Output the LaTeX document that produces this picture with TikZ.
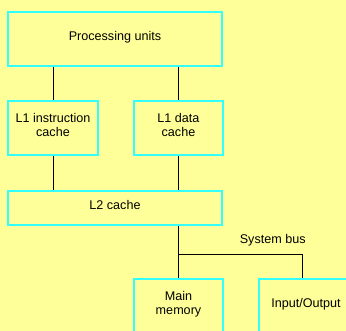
\documentclass[tikz,border=0pt]{standalone}
\usepackage{fontspec}
\setmainfont{Liberation Sans}
\usepackage{xcolor}
\usetikzlibrary{positioning}
\definecolor{bgyellow}{HTML}{FFFF99}
\definecolor{boxcyan}{HTML}{33FFFF}

\begin{document}
\begin{tikzpicture}[
  x=1pt, y=1pt,
  unit/.style={rectangle, draw=boxcyan, line width=1.3pt, align=center,
               minimum height=54pt, inner sep=0pt, text depth=6.5pt,
               font=\fontsize{12.6}{14.5}\selectfont},
  wire/.style={draw=black, line width=0.9pt},
]
  % background and frame
  \fill[bgyellow] (0,0) rectangle (346,-331);
  \clip (0,0) rectangle (346,-331);

  % Processor side
  \node[unit, minimum width=214pt] (proc) at (115,-39) {Processing units};
  \node[unit, minimum width=90pt] (icache) at (53,-128) {L1 instruction\\cache};
  \node[unit, minimum width=89pt] (dcache) at (178.5,-128) {L1 data\\cache};
  \node[unit, minimum width=214pt, minimum height=34pt] (ltwo) at (115,-208) {L2 cache};

  % Bus side
  \node[unit, minimum width=89pt] (mem) at (178.5,-306) {Main\\memory};
  \node[unit, minimum width=94pt] (io) at (306,-306) {Input/Output};
  \coordinate (bus) at (mem.north |- 0,-254);

  % Connections
  \draw[wire] (proc.south -| icache) -- (icache.north);
  \draw[wire] (proc.south -| dcache) -- (dcache.north);
  \draw[wire] (icache.south) -- (icache.south |- ltwo.north);
  \draw[wire] (dcache.south) -- (dcache.south |- ltwo.north);
  \draw[wire] (ltwo.south -| mem) -- (mem.north);
  \draw[wire] (bus) -| node[above=4pt, pos=0.38, font=\fontsize{12.6}{14.5}\selectfont]
    {System bus} ([xshift=-3.5pt]io.north);
\end{tikzpicture}
\end{document}
